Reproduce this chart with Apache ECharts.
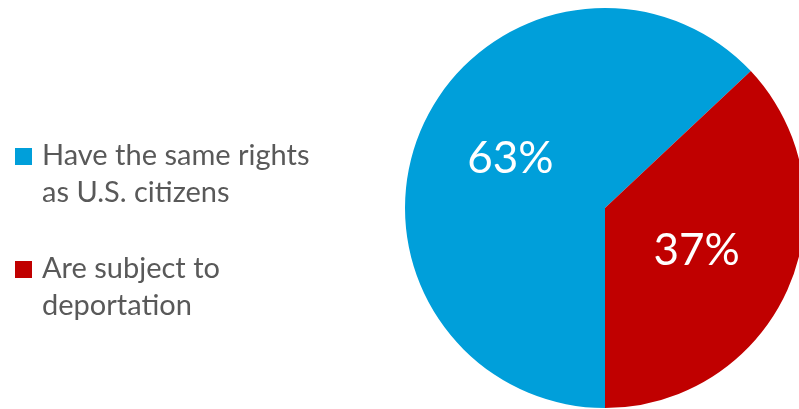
<!DOCTYPE html>
<html><head><meta charset="utf-8">
<script src="https://cdn.jsdelivr.net/npm/echarts@6/dist/echarts.min.js"></script>
<style>html,body{margin:0;padding:0;background:#fff}#c{width:799px;height:409px}</style>
</head><body><div id="c"></div>
<script>
const categories = ['Have the same rights as U.S. citizens', 'Are subject to deportation'];
const legendLabels = ['Have the same rights\nas U.S. citizens', 'Are subject to\ndeportation'];
const values = [63, 37];
const colors = ['#009FDA', '#C00000'];

const labelOffsets = [[0, -8], [-3, 2]];
const iconPath = 'path://M0,11L17,11L17,28L0,28Z M0,0L0.01,0L0,0.01Z M21.99,74L22,74L22,73.99Z';

const chart = echarts.init(document.getElementById('c'), null, {renderer: 'canvas'});
chart.setOption({
  animation: false,
  color: colors,
  legend: {
    orient: 'vertical',
    left: 15,
    top: 137,
    padding: 0,
    itemWidth: 22,
    itemHeight: 74,
    itemGap: 39,
    icon: iconPath,
    itemStyle: {borderWidth: 0},
    formatter: function (name) { return legendLabels[categories.indexOf(name)]; },
    textStyle: {
      fontFamily: 'Lato',
      fontSize: 29,
      color: '#595959',
      rich: {
        l: {fontFamily: 'Lato', fontSize: 29, lineHeight: 37, color: '#595959'}
      }
    },
    data: categories
  },
  series: [{
    type: 'pie',
    center: [605, 208],
    radius: [0, 200],
    startAngle: 270,
    clockwise: true,
    label: {
      position: 'inside',
      formatter: '{c}%',
      color: '#fff',
      fontFamily: 'Lato',
      fontSize: 44
    },
    labelLine: {show: false},
    emphasis: {disabled: true},
    itemStyle: {borderWidth: 0},
    data: categories.map((n, i) => ({name: n, value: values[i], label: {offset: labelOffsets[i]}}))
  }]
});
chart.setOption({
  legend: {
    formatter: function (name) {
      return legendLabels[categories.indexOf(name)].split('\n').map(s => '{l|' + s + '}').join('\n');
    }
  }
});
</script></body></html>
